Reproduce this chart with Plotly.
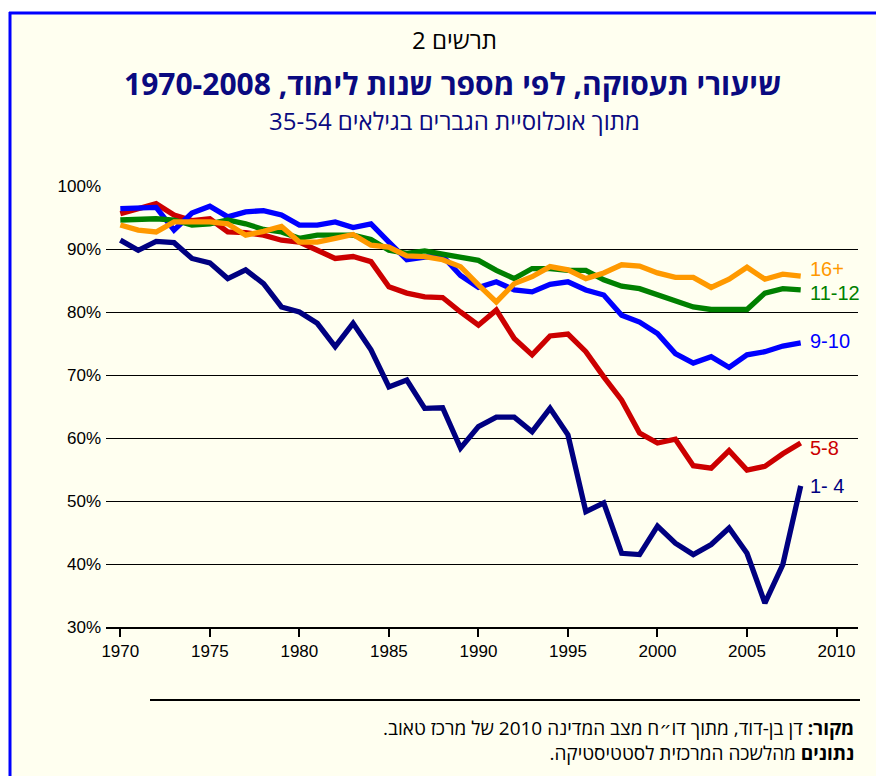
import plotly.graph_objects as go

years = [1970, 1971, 1972, 1973, 1974, 1975, 1976, 1977, 1978, 1979,
         1980, 1981, 1982, 1983, 1984, 1985, 1986, 1987, 1988, 1989,
         1990, 1991, 1992, 1993, 1994, 1995, 1996, 1997, 1998, 1999,
         2000, 2001, 2002, 2003, 2004, 2005, 2006, 2007, 2008]

edu_1_4 = [91.4, 89.8, 91.2, 91.0, 88.5, 87.8, 85.3, 86.7, 84.5, 80.8,
           80.0, 78.2, 74.5, 78.2, 74.0, 68.1, 69.2, 64.7, 64.8, 58.4,
           61.8, 63.3, 63.3, 61.0, 64.7, 60.5, 48.3, 49.7, 41.7, 41.5,
           46.0, 43.3, 41.5, 43.1, 45.7, 41.7, 33.8, 39.9, 52.4]
edu_5_8 = [95.6, 96.3, 97.2, 95.4, 94.5, 94.8, 92.7, 92.6, 92.2, 91.4,
           91.1, 89.8, 88.5, 88.8, 88.0, 84.0, 83.0, 82.4, 82.3, 80.0,
           77.9, 80.3, 75.8, 73.2, 76.2, 76.5, 73.7, 69.7, 66.0, 60.8,
           59.2, 59.8, 55.6, 55.2, 58.0, 54.9, 55.5, 57.5, 59.2]
edu_9_10 = [96.4, 96.4, 96.6, 93.0, 95.7, 96.8, 95.1, 95.9, 96.1, 95.4,
            93.8, 93.8, 94.3, 93.4, 94.0, 91.1, 88.3, 88.7, 88.9, 85.8,
            83.9, 84.8, 83.5, 83.2, 84.4, 84.8, 83.5, 82.7, 79.5, 78.4,
            76.6, 73.4, 71.9, 72.9, 71.2, 73.2, 73.7, 74.6, 75.1]
edu_11_12 = [94.6, 94.7, 94.8, 94.6, 93.8, 94.0, 94.6, 94.0, 93.1, 92.7,
             91.7, 92.2, 92.3, 92.2, 91.5, 89.8, 89.3, 89.7, 89.2, 88.7,
             88.2, 86.6, 85.3, 86.9, 86.9, 86.6, 86.6, 85.1, 84.1, 83.7,
             82.8, 81.9, 80.8, 80.4, 80.4, 80.4, 83.0, 83.7, 83.5]
edu_16 = [93.8, 93.0, 92.7, 94.3, 94.3, 94.3, 94.0, 92.2, 92.8, 93.6,
          91.1, 91.1, 91.7, 92.3, 90.6, 90.3, 88.9, 88.8, 88.3, 87.2,
          84.3, 81.6, 84.5, 85.6, 87.2, 86.7, 85.3, 86.2, 87.5, 87.3,
          86.2, 85.5, 85.5, 83.9, 85.2, 87.1, 85.2, 86.0, 85.7]

series_names = ["1- 4", "5-8", "9-10", "11-12", "16+"]
series_values = [edu_1_4, edu_5_8, edu_9_10, edu_11_12, edu_16]
series_colors = ["#000080", "#CC0000", "#0000FF", "#008000", "#FF9900"]
label_yshift = [0, -5, 2, -3, 7]

y_ticks = [30, 40, 50, 60, 70, 80, 90, 100]
y_ticklabels = ["30%", "40%", "50%", "60%", "70%", "80%", "90%", "100%"]
x_ticks = [1970, 1975, 1980, 1985, 1990, 1995, 2000, 2005, 2010]

caption = "תרשים 2"
title = "שיעורי תעסוקה, לפי מספר שנות לימוד, 1970-2008"
subtitle = "מתוך אוכלוסיית הגברים בגילאים 35-54"
source1_bold = "מקור:"
source1 = " דן בן-דוד, מתוך דו״ח מצב המדינה 2010 של מרכז טאוב."
source2_bold = "נתונים"
source2 = " מהלשכה המרכזית לסטטיסטיקה."
RLM = "\u200f"

# page body has an 8px margin: figure drawn at (8, 8)
OFF = 8
W, H = 884 - OFF, 776 - OFF
L, R, T, B = 106, 858, 186, 627  # plot area in screenshot pixels


def px(xp):
    return (xp - L) / (R - L)


def py(yp):
    return (B - yp) / (B - T)


HEB = "Open Sans, DejaVu Sans, sans-serif"

fig = go.Figure()
for name, vals, col in zip(series_names, series_values, series_colors):
    fig.add_trace(go.Scatter(x=years, y=vals, mode="lines", name=name,
                             line=dict(color=col, width=5.3), showlegend=False))

annotations = []
for name, vals, col, ys in zip(series_names, series_values, series_colors, label_yshift):
    annotations.append(dict(x=years[-1] + 0.4, y=vals[-1], xref="x", yref="y",
                            text=name, showarrow=False, xanchor="left", yanchor="middle",
                            yshift=ys, font=dict(color=col, size=20, family="Liberation Sans, Arial")))

source_text = ("<b>" + source1_bold + "</b>" + source1 + RLM + "<br>"
               + "<b>" + source2_bold + "</b>" + source2 + RLM)

annotations += [
    dict(x=px(454), y=py(39), xref="paper", yref="paper", text=caption, showarrow=False,
         xanchor="center", yanchor="middle", font=dict(size=24, color="black", family=HEB)),
    dict(x=px(452), y=py(84), xref="paper", yref="paper", text="<b>" + title + "</b>", showarrow=False,
         xanchor="center", yanchor="middle", font=dict(size=30, color="#0A0A80", family=HEB)),
    dict(x=px(454), y=py(120), xref="paper", yref="paper", text=subtitle, showarrow=False,
         xanchor="center", yanchor="middle", font=dict(size=24, color="#0A0A80", family=HEB)),
    dict(x=px(856), y=py(740), xref="paper", yref="paper", text=source_text, showarrow=False,
         xanchor="right", yanchor="middle", align="right",
         font=dict(size=19, color="black", family=HEB)),
]

shapes = [
    dict(type="rect", xref="paper", yref="paper", x0=px(10), x1=px(900), y0=py(800), y1=py(13),
         fillcolor="#FFFFF0", line=dict(width=0), layer="below"),
    dict(type="line", xref="paper", yref="paper", x0=px(9), x1=px(900), y0=py(13), y1=py(13),
         line=dict(color="#0000FF", width=3), layer="below"),
    dict(type="line", xref="paper", yref="paper", x0=px(10), x1=px(10), y0=py(12), y1=py(800),
         line=dict(color="#0000FF", width=3), layer="below"),
    dict(type="line", xref="paper", yref="paper", x0=px(150), x1=px(860), y0=py(700), y1=py(700),
         line=dict(color="black", width=2)),
]

fig.update_layout(
    width=W, height=H,
    margin=dict(l=L - OFF, r=W - (R - OFF), t=T - OFF, b=H - (B - OFF), pad=0),
    paper_bgcolor="white", plot_bgcolor="rgba(0,0,0,0)",
    annotations=annotations, shapes=shapes,
    font=dict(family="Liberation Sans, Arial", color="black"),
)
fig.update_xaxes(range=[1969.2, 2011.2], tickvals=x_ticks, ticks="outside", ticklen=8,
                 tickwidth=1.5, tickcolor="black", showgrid=False, showline=True,
                 linecolor="black", linewidth=1.5, zeroline=False,
                 tickfont=dict(size=17, color="black"))
fig.update_yaxes(range=[30, 100], tickvals=y_ticks, ticktext=y_ticklabels, showgrid=True,
                 gridcolor="black", gridwidth=1.2, zeroline=False, showline=False, ticks="",
                 tickfont=dict(size=17, color="black"), ticklabelstandoff=4)

fig.write_html("out.html")
